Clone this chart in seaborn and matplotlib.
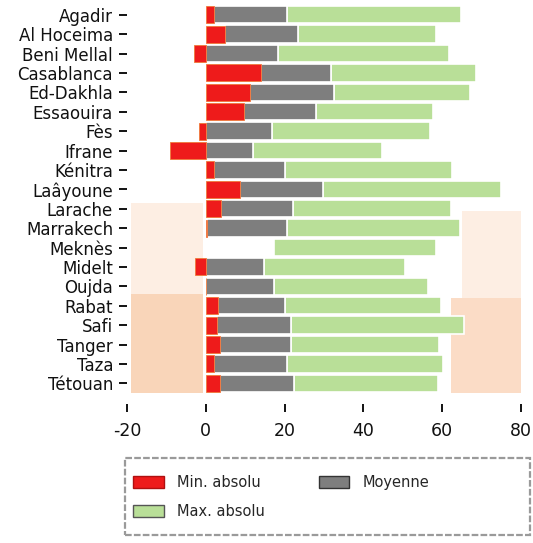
import numpy as np
import matplotlib
matplotlib.use("Agg")
import matplotlib.pyplot as plt
from matplotlib.patches import Patch, Rectangle
import seaborn as sns

cities = ["Agadir", "Al Hoceima", "Beni Mellal", "Casablanca", "Ed-Dakhla",
          "Essaouira", "Fès", "Ifrane", "Kénitra", "Laâyoune", "Larache",
          "Marrakech", "Meknès", "Midelt", "Oujda", "Rabat", "Safi",
          "Tanger", "Taza", "Tétouan"]
# end positions of each segment along the axis
min_abs = [2.0, 4.9, -3.1, 13.9, 11.1, 9.8, -1.7, -9.0, 2.0, 8.8, 3.9, 0.4,
           np.nan, -2.8, 0.0, 3.2, 2.9, 3.5, 2.0, 3.5]
moyenne = [20.6, 23.4, 18.3, 31.9, 32.5, 28.0, 16.8, 12.0, 20.1, 29.8, 22.1,
           20.5, 17.2, 14.8, 17.4, 20.1, 21.6, 21.5, 20.5, 22.3]
max_abs = [64.7, 58.4, 61.7, 68.5, 67.1, 57.7, 56.9, 44.8, 62.5, 74.9, 62.2,
           64.4, 58.3, 50.6, 56.5, 59.6, 65.5, 59.3, 60.3, 58.9]
xticks = [-20, 0, 20, 40, 60, 80]
xtick_labels = ["-20", "0", "20", "40", "60", "80"]
legend_labels = ["Min. absolu", "Max. absolu", "Moyenne"]

RED = "#ee1b1b"
GRAY = "#7e7e7e"
GREEN = "#b9df98"
PEACH = "#f9d5b9"
PEACH_R = "#fbdcc6"
PEACH_LIGHT = "#fdeee3"

sns.set_theme(style="white")
plt.rcParams["font.family"] = ["DejaVu Sans"]

W, H = 533, 543
fig = plt.figure(figsize=(W / 100, H / 100), dpi=100)
ax = fig.add_axes([127 / W, (H - 393) / H, (521 - 127) / W, (393 - 5) / H])

mn = np.array(min_abs, dtype=float)
mo = np.array(moyenne, dtype=float)
mx = np.array(max_abs, dtype=float)
pos = np.arange(len(cities))

# background paper stains
ax.axvspan(-19, -0.8, ymin=-0.01, ymax=0.255, color=PEACH, zorder=0, lw=0)
ax.axvspan(-19, -0.8, ymin=0.255, ymax=0.49, color=PEACH_LIGHT, zorder=0, lw=0)
ax.axvspan(62.3, 80.3, ymin=-0.01, ymax=0.245, color=PEACH_R, zorder=0, lw=0)
ax.axvspan(65, 80.3, ymin=0.245, ymax=0.47, color=PEACH_LIGHT, zorder=0, lw=0)

gray_start = np.clip(mn, 0, None)
ax.barh(pos, mx - mo, left=mo, height=0.9, color=GREEN,
        edgecolor="white", linewidth=1.2, zorder=2)
ax.barh(pos, mo - gray_start, left=gray_start, height=0.9, color=GRAY,
        edgecolor="white", linewidth=1.2, zorder=3)
sns.barplot(x=mn, y=cities, order=cities, orient="h", color=RED,
            saturation=1, width=0.88, edgecolor="#f07a3a", linewidth=0.6,
            ax=ax, zorder=4)

ax.set_xlim(-20, 80)
ax.set_ylim(len(cities) - 0.5, -0.5)
for s in ax.spines.values():
    s.set_visible(False)
ax.spines["bottom"].set_position(("outward", 8))
ax.set_xticks(xticks)
ax.set_xticklabels(xtick_labels)
ax.set_xlabel("")
ax.set_ylabel("")
ax.tick_params(axis="x", bottom=True, length=6, width=1.3, color="black",
               pad=7, labelsize=12.5, labelcolor="#111111")
ax.tick_params(axis="y", left=True, length=6, width=1.3, color="black",
               pad=4, labelsize=12, labelcolor="#111111")

# legend frame
fig.patches.append(Rectangle((125 / W, (H - 535) / H), 405 / W, 77 / H,
                             transform=fig.transFigure, fill=False,
                             edgecolor="#9a9a9a", linewidth=1.6,
                             linestyle=(0, (3, 1))))
handles = [Patch(facecolor=RED, edgecolor="#b01010"),
           Patch(facecolor=GREEN, edgecolor="#555555"),
           Patch(facecolor=GRAY, edgecolor="#333333")]
fig.legend(handles, legend_labels, ncol=2, loc="upper left",
           bbox_to_anchor=(133 / W, (H - 475) / H), frameon=False,
           fontsize=10.5, borderpad=0, borderaxespad=0, handlelength=2.1,
           handleheight=0.95, handletextpad=0.9, labelspacing=0.95,
           columnspacing=3.7)

fig.savefig("out.png", dpi=100, facecolor="white")
